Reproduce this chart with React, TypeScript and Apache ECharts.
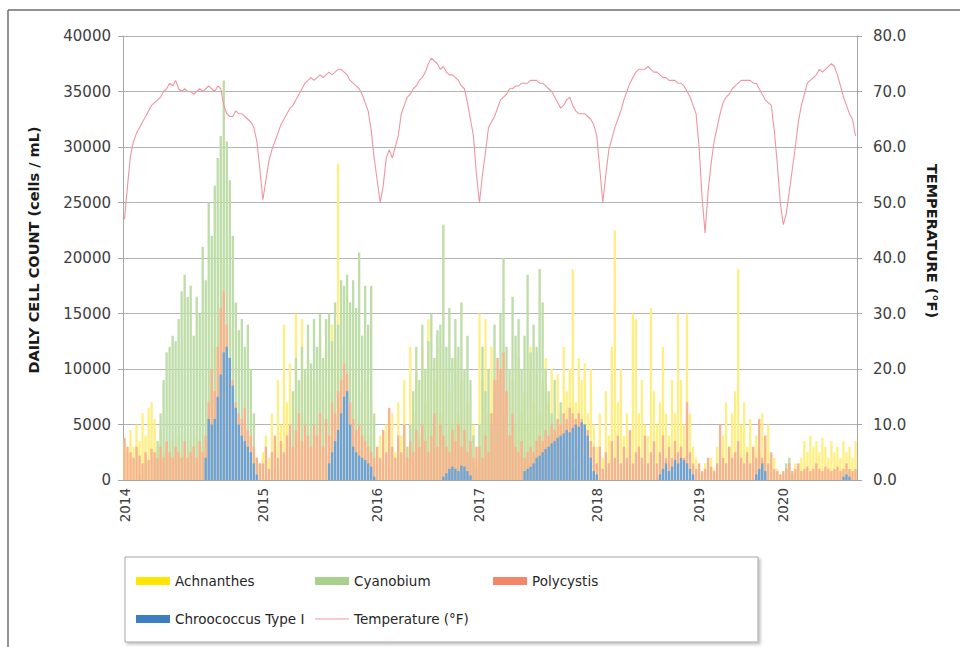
import { useEffect, useRef } from "react";
import * as echarts from "echarts";

// Sampling periods: the x axis is one column per sample, grouped by year.
const years = [2014, 2015, 2016, 2017, 2018, 2019, 2020];
const samplesPerYear = [46, 38, 34, 39, 34, 28, 25];

// Daily cell counts (cells / mL) per species, one value per sample.
const achnanthes = [
  // 2014
  3500, 2500, 4500, 3000, 5000, 3500, 6000, 4000, 6500, 7000,
  5500, 3000, 4500, 2500, 3000, 2000, 3500, 2000, 4000, 2500,
  3000, 2000, 3500, 2000, 4000, 2500, 3000, 4000, 6000, 9000,
  12000, 7000, 15000, 20000, 12000, 8000, 5000, 4000, 6000, 4000,
  3000, 5000, 2500, 3000, 2000, 1500,
  // 2015
  2500, 4000, 2000, 6000, 3000, 9000, 5000, 14000, 7000, 10500,
  5000, 15000, 8000, 14500, 6000, 11000, 4000, 9000, 5000, 13000,
  7000, 12000, 8000, 14000, 10000, 28500, 12000, 9000, 15000, 7000,
  10000, 6000, 8000, 5000, 9000, 4000, 7000, 3000,
  // 2016
  2000, 4000, 1500, 5000, 3000, 6000, 2500, 7000, 4000, 9000,
  3000, 12000, 6000, 10000, 4000, 12000, 7000, 14500, 5000, 9000,
  12000, 6000, 10000, 4000, 8000, 5000, 11000, 6000, 9000, 4000,
  7000, 3000, 5000, 2000,
  // 2017
  15000, 9000, 14500, 6000, 12000, 8000, 5000, 10000, 6000, 8000,
  4000, 9000, 5000, 11000, 6000, 8000, 5000, 12000, 7000, 10000,
  6000, 9000, 11000, 7000, 10000, 5000, 9500, 6000, 12000, 8000,
  10000, 19000, 7000, 11000, 9000, 10500, 6000, 10000, 5000,
  // 2018
  3000, 6000, 2000, 8000, 4000, 12000, 22500, 7000, 10000, 4000,
  6000, 3000, 15000, 14500, 6000, 9000, 5000, 4000, 15500, 8000,
  5000, 7000, 12000, 6000, 4000, 9000, 6000, 15000, 9000, 5000,
  15000, 6000, 3000, 2000,
  // 2019
  1000, 500, 1500, 800, 2000, 1000, 3000, 1500, 4000, 7000,
  3000, 6000, 8000, 19000, 5000, 7000, 3000, 5500, 2500, 4000,
  2000, 6000, 3000, 5000, 1500, 2000, 1000, 500,
  // 2020
  500, 800, 1000, 600, 1500, 1000, 2000, 3500, 2500, 4000,
  3000, 3500, 2500, 3800, 3000, 2000, 3500, 2500, 3000, 2000,
  3500, 2500, 3000, 2000, 3500,
];

const cyanobium = [
  // 2014
  0, 0, 0, 0, 0, 500, 0, 1500, 0, 0,
  2000, 3500, 6000, 9000, 11500, 12000, 13000, 12500, 14500, 17000,
  18500, 16500, 17500, 13000, 16500, 15000, 21000, 18000, 25000, 22000,
  26500, 29000, 31000, 36000, 30500, 27000, 22000, 16000, 13500, 14500,
  12000, 14000, 10000, 6000, 2000, 0,
  // 2015
  0, 0, 0, 0, 0, 500, 1000, 0, 2000, 3000,
  8000, 11000, 9000, 12000, 10000, 14000, 10500, 14500, 12000, 15000,
  11000, 14500, 15000, 12500, 16000, 14000, 18000, 17500, 18500, 16000,
  18000, 15500, 20500, 13000, 17500, 14000, 17500, 6000,
  // 2016
  0, 0, 0, 0, 1000, 0, 0, 2000, 0, 1500,
  3000, 5000, 8000, 12000, 9000, 14000, 10000, 12500, 15000, 11000,
  13500, 14000, 23000, 12000, 15500, 11000, 14500, 12000, 16000, 10000,
  13000, 9000, 4000, 1000,
  // 2017
  5000, 12000, 8000, 10000, 5000, 14000, 9000, 15000, 20000, 12000,
  10000, 16500, 13000, 14500, 10000, 13000, 18500, 11500, 14000, 12000,
  19000, 16000, 10000, 8000, 6000, 9000, 4000, 7000, 3000, 5000,
  2000, 4000, 1000, 3000, 0, 2000, 0, 0, 0,
  // 2018
  0, 0, 0, 0, 0, 0, 0, 0, 0, 0,
  0, 0, 0, 0, 0, 0, 0, 0, 0, 0,
  0, 0, 1000, 0, 1500, 0, 0, 0, 0, 0,
  0, 0, 0, 0,
  // 2019
  0, 0, 0, 0, 0, 0, 0, 0, 0, 0,
  0, 0, 0, 0, 0, 0, 0, 0, 0, 1000,
  2500, 1500, 0, 0, 0, 0, 0, 0,
  // 2020
  0, 1500, 2000, 500, 0, 0, 0, 0, 0, 0,
  0, 0, 0, 0, 0, 0, 0, 0, 0, 0,
  0, 0, 0, 0, 0,
];

const polycystis = [
  // 2014
  3800, 3000, 2500, 2000, 3000, 2200, 1500, 2500, 1800, 2800,
  2500, 2000, 3000, 2000, 3500, 2500, 2000, 3000, 2500, 2000,
  3500, 2000, 2500, 3000, 2000, 3500, 2500, 4000, 7000, 10000,
  8000, 12000, 15500, 17000, 14000, 11000, 9000, 7000, 6000, 5500,
  6500, 4500, 4000, 3000, 2000, 1500,
  // 2015
  1500, 3000, 1000, 2500, 4000, 2000, 3500, 2500, 4000, 5000,
  3000, 4500, 6000, 3500, 5000, 4000, 3000, 5000, 4000, 6000,
  3000, 5500, 4000, 7000, 6000, 8000, 9000, 10500, 9500, 7000,
  5500, 4500, 5000, 4000, 3500, 3000, 2500, 2000,
  // 2016
  3000, 2000, 4500, 2500, 6500, 3000, 2000, 4000, 2500, 5000,
  2000, 3500, 2500, 4500, 3000, 5000, 3500, 2500, 4000, 6000,
  3000, 5000, 4000, 3000, 2500, 4500, 3500, 5000, 3000, 4500,
  2500, 3500, 2000, 3000,
  // 2017
  3000, 2000, 4000, 2500, 6000, 9000, 11000, 10000, 11500, 8000,
  4000, 6000, 3000, 2500, 3500, 2000, 2500, 3000, 2500, 3500,
  4000, 3500, 4500, 4000, 5000, 4500, 5500, 5000, 6000, 5500,
  6500, 6000, 5500, 6000, 5500, 5000, 4500, 3500, 3000,
  // 2018
  1500, 3000, 1000, 2500, 1500, 3500, 2000, 4000, 1500, 3000,
  2000, 4500, 1500, 2500, 3000, 2000, 4000, 1500, 2500, 3500,
  1500, 2500, 4000, 2000, 3000, 2000, 3500, 2500, 3000, 2000,
  7000, 2500, 1500, 1000,
  // 2019
  1500, 800, 1000, 2000, 1200, 800, 1500, 5000, 2000, 1500,
  3000, 2000, 2500, 3500, 2000, 1500, 2500, 1500, 3000, 2000,
  5500, 2000, 4000, 1500, 2500, 1000, 800, 500,
  // 2020
  800, 1000, 1500, 800, 1000, 1500, 800, 1000, 1200, 800,
  1000, 1500, 1000, 800, 1200, 1000, 800, 1000, 1200, 800,
  1000, 1500, 1000, 800, 1000,
];

const chroococcus = [
  // 2014
  0, 0, 0, 0, 0, 0, 0, 0, 0, 0,
  0, 0, 0, 0, 0, 0, 0, 0, 0, 0,
  0, 0, 0, 0, 0, 0, 0, 2000, 5500, 5000,
  5500, 7500, 9500, 11500, 12000, 11000, 8500, 6500, 5000, 4000,
  3500, 3000, 2500, 1500, 500, 0,
  // 2015
  0, 0, 0, 0, 0, 0, 0, 0, 0, 0,
  0, 0, 0, 0, 0, 0, 0, 0, 0, 0,
  0, 0, 1500, 2500, 3500, 4500, 6000, 7500, 8000, 5000,
  3000, 2500, 2200, 2000, 1800, 1500, 1200, 300,
  // 2016
  0, 0, 0, 0, 0, 0, 0, 0, 0, 0,
  0, 0, 0, 0, 0, 0, 0, 0, 0, 0,
  0, 0, 300, 600, 1000, 1200, 1000, 800, 1300, 1200,
  800, 400, 0, 0,
  // 2017
  0, 0, 0, 0, 0, 0, 0, 0, 0, 0,
  0, 0, 0, 0, 0, 800, 1000, 1200, 1500, 2000,
  2200, 2500, 2800, 3000, 3300, 3500, 3800, 4000, 4200, 4500,
  4300, 4700, 5000, 4800, 5200, 5000, 4000, 2000, 800,
  // 2018
  500, 0, 0, 0, 0, 0, 0, 0, 0, 0,
  0, 0, 0, 0, 0, 0, 0, 0, 0, 0,
  0, 500, 1000, 1500, 800, 1200, 1800, 1500, 2000, 1800,
  1500, 1000, 500, 0,
  // 2019
  0, 0, 0, 0, 0, 0, 0, 0, 0, 0,
  0, 0, 0, 0, 0, 0, 0, 0, 0, 500,
  1000, 1500, 800, 0, 0, 0, 0, 0,
  // 2020
  0, 0, 0, 0, 0, 0, 0, 0, 0, 0,
  0, 0, 0, 0, 0, 0, 0, 0, 0, 0,
  300, 500, 300, 0, 0,
];

// Water temperature (°F) at each sample.
const temperature = [
  // 2014
  47, 53, 58.5, 61, 62.5, 63.5, 64.5, 65.5, 66.5, 67.5,
  68, 68.5, 69, 70, 70.5, 71.5, 71, 72, 70.5, 70,
  70.5, 70, 70, 69.5, 70, 70.5, 70, 70.5, 71, 70.5,
  70, 71, 70.5, 67.5, 66, 65.5, 65.5, 66.5, 66, 66,
  65.5, 65, 64.5, 63.5, 61, 56,
  // 2015
  50.5, 54, 57.5, 59.5, 61, 62.5, 64, 65, 66, 67,
  67.5, 68.5, 69.5, 70.5, 71.5, 72, 72.5, 72, 72.5, 73,
  72.5, 73, 73.5, 73, 73.5, 74, 74, 73.5, 73, 72,
  71.5, 71, 70.5, 69.5, 68, 66.5, 63, 58,
  // 2016
  54, 50, 53, 58, 59.5, 58, 60, 62, 66, 67.5,
  69, 69.5, 70.5, 71, 72, 72.5, 73.5, 75, 76, 75.5,
  75, 74, 74.5, 73.5, 73, 73, 72.5, 72, 71, 70.5,
  68, 65, 62, 55,
  // 2017
  50, 55, 59, 63.5, 64.5, 65.5, 67, 68.5, 69, 69.5,
  70.5, 70.5, 71, 71, 71.5, 71.5, 71.5, 72, 72, 72,
  71.5, 71.5, 71, 70.5, 70, 69, 68, 67, 67.5, 68.5,
  69, 67.5, 66.5, 66, 66, 66, 65.5, 65, 64,
  // 2018
  62, 56, 50, 55, 59.5, 61.5, 63.5, 65, 66.5, 68.5,
  70, 71.5, 72.5, 73.5, 74, 74, 74, 74.5, 74, 73.5,
  73.5, 73, 72.5, 72.5, 72, 72, 72, 71.5, 71.5, 71,
  70, 69, 67.5, 66,
  // 2019
  60, 51, 44.5, 52, 57, 61, 63.5, 66, 68, 69,
  69.5, 70.5, 71, 71.5, 72, 72, 72, 72, 71.5, 71.5,
  70.5, 69.5, 68.5, 68, 67.5, 63, 57, 50,
  // 2020
  46, 48, 52, 56, 60, 64.5, 67.5, 69.5, 71.5, 72,
  72.5, 73, 74, 73.5, 74, 74.5, 75, 74.5, 73, 71,
  69, 67.5, 66, 65, 62,
];

const countTicks = [0, 5000, 10000, 15000, 20000, 25000, 30000, 35000, 40000];
const tempTicks = [0, 10, 20, 30, 40, 50, 60, 70, 80];

const seriesNames = [
  "Achnanthes",
  "Cyanobium",
  "Polycystis",
  "Chroococcus Type I",
  "Temperature (°F)",
];
const countAxisTitle = "DAILY CELL COUNT (cells / mL)";
const tempAxisTitle = "TEMPERATURE (°F)";

// Column colours and the solid legend swatch colours.
const barColors = ["#FFEF82", "#BEDDA8", "#F6B38E", "#6AA4DB"];
const swatchColors = ["#FFE500", "#A9D18E", "#F4866A", "#3C7DC4", "#F29AA4"];
const lineColor = "#EE96A0";

const FONT = "'DejaVu Sans', 'Open Sans', sans-serif";

export default function App() {
  const ref = useRef<HTMLDivElement>(null);

  useEffect(() => {
    if (!ref.current) return;
    const chart = echarts.init(ref.current, undefined, { renderer: "svg" });

    const categories: string[] = [];
    const yearStart = new Set<number>();
    years.forEach((y, k) => {
      yearStart.add(categories.length);
      for (let i = 1; i <= samplesPerYear[k]; i++) categories.push(`${y}-${i}`);
    });

    const legendPos = [
      { left: 136, top: 574 },
      { left: 315, top: 574 },
      { left: 493, top: 574 },
      { left: 136, top: 612 },
      { left: 315, top: 612 },
    ];

    const legends = seriesNames.map((name, i) => ({
      show: true,
      left: legendPos[i].left,
      top: legendPos[i].top,
      orient: "horizontal",
      padding: 0,
      itemWidth: 34,
      itemHeight: i === 4 ? 1.2 : 8,
      itemGap: 5,
      selectedMode: false,
      textStyle: { fontFamily: FONT, fontSize: 13.5, color: "#262626" },
      data: [
        {
          name,
          icon: "rect",
          itemStyle: { color: swatchColors[i], borderWidth: 0 },
        },
      ],
    }));

    const barSeries = [achnanthes, cyanobium, polycystis, chroococcus].map((vals, i) => ({
      name: seriesNames[i],
      type: "bar",
      xAxisIndex: 0,
      yAxisIndex: 0,
      data: vals,
      barGap: "-100%",
      barCategoryGap: "22%",
      itemStyle: { color: barColors[i] },
      emphasis: { disabled: true },
    }));

    const titleStyle = {
      fontFamily: FONT,
      fontSize: 14.5,
      fontWeight: "bold",
      fill: "#1a1a1a",
      align: "center",
      verticalAlign: "middle",
    };

    const option = {
      animation: false,
      backgroundColor: "#ffffff",
      textStyle: { fontFamily: FONT },
      grid: { left: 123, right: 103, top: 36, bottom: 167, containLabel: false },
      legend: legends,
      xAxis: {
        type: "category",
        data: categories,
        boundaryGap: true,
        axisLine: { show: true, lineStyle: { color: "#A6A6A6", width: 1 } },
        axisTick: { show: false },
        splitLine: { show: false },
        axisLabel: {
          rotate: 90,
          margin: 8,
          fontFamily: FONT,
          fontSize: 13.5,
          color: "#404040",
          interval: (index: number) => yearStart.has(index),
          formatter: (value: string) => value.split("-")[0],
        },
      },
      yAxis: [
        {
          type: "value",
          min: countTicks[0],
          max: countTicks[countTicks.length - 1],
          interval: countTicks[1] - countTicks[0],
          axisLine: { show: true, lineStyle: { color: "#A6A6A6", width: 1 } },
          axisTick: { show: true, length: 5, lineStyle: { color: "#A6A6A6" } },
          splitLine: { show: true, lineStyle: { color: "#B4B4B4", width: 1.2 } },
          axisLabel: {
            margin: 12,
            fontFamily: FONT,
            fontSize: 15,
            color: "#404040",
            formatter: (v: number) => String(v),
          },
        },
        {
          type: "value",
          min: tempTicks[0],
          max: tempTicks[tempTicks.length - 1],
          interval: tempTicks[1] - tempTicks[0],
          position: "right",
          axisLine: { show: true, lineStyle: { color: "#A6A6A6", width: 1 } },
          axisTick: { show: true, length: 5, lineStyle: { color: "#A6A6A6" } },
          splitLine: { show: false },
          axisLabel: {
            margin: 16,
            fontFamily: FONT,
            fontSize: 15,
            color: "#404040",
            formatter: (v: number) => v.toFixed(1),
          },
        },
      ],
      graphic: [
        // page frame: left and top edges
        {
          type: "line",
          silent: true,
          shape: { x1: 8, y1: 10, x2: 8, y2: 647 },
          style: { stroke: "#6E6E6E", lineWidth: 1.5 },
        },
        {
          type: "line",
          silent: true,
          shape: { x1: 8, y1: 10, x2: 960, y2: 10 },
          style: { stroke: "#6E6E6E", lineWidth: 1.5 },
        },
        // axis titles
        {
          type: "text",
          silent: true,
          x: 34,
          y: 250,
          rotation: Math.PI / 2,
          style: { ...titleStyle, text: countAxisTitle },
        },
        {
          type: "text",
          silent: true,
          x: 932,
          y: 241,
          rotation: -Math.PI / 2,
          style: { ...titleStyle, text: tempAxisTitle },
        },
        // legend box
        {
          type: "rect",
          silent: true,
          z: -1,
          shape: { x: 125, y: 557, width: 633, height: 85 },
          style: {
            fill: "#ffffff",
            stroke: "#A6A6A6",
            lineWidth: 1,
            shadowBlur: 3,
            shadowOffsetX: 2,
            shadowOffsetY: 2,
            shadowColor: "rgba(0,0,0,0.25)",
          },
        },
      ],
      series: [
        ...barSeries,
        {
          name: seriesNames[4],
          type: "line",
          xAxisIndex: 0,
          yAxisIndex: 1,
          data: temperature,
          symbol: "none",
          showSymbol: false,
          z: 5,
          lineStyle: { color: lineColor, width: 1.1 },
          itemStyle: { color: lineColor },
          emphasis: { disabled: true },
        },
      ],
    };

    chart.setOption(option as any);
    return () => chart.dispose();
  }, []);

  return (
    <div
      ref={ref}
      style={{ position: "fixed", left: 0, top: 0, width: 960, height: 647, background: "#fff" }}
    />
  );
}
